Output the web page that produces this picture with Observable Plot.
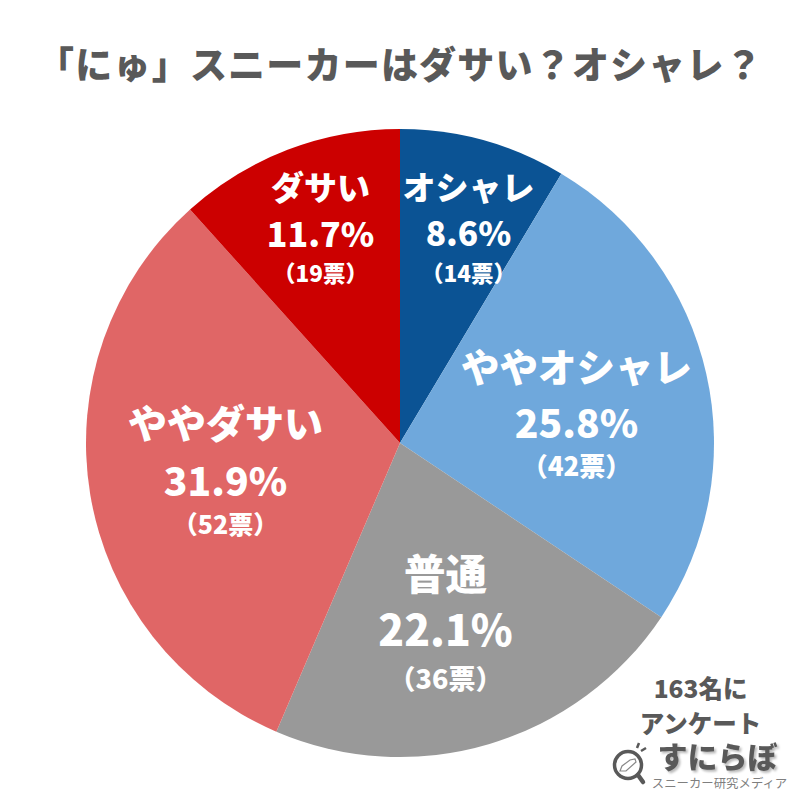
<!DOCTYPE html>
<html lang="ja"><head><meta charset="utf-8">
<script src="https://cdn.jsdelivr.net/npm/d3@7"></script>
<script src="https://cdn.jsdelivr.net/npm/@observablehq/plot@0.6"></script>
<style>
html,body{margin:0;padding:0;background:#fff;width:800px;overflow:hidden}
#title{height:115px;box-sizing:border-box;padding-top:40px;text-align:center;font:900 37px/46px "Noto Sans CJK JP";letter-spacing:1.2px;color:#595959;white-space:nowrap}
svg{display:block}
</style></head><body>
<div id="title">「にゅ」スニーカーはダサい？オシャレ？</div>
<div id="chart"></div>
<script>
const categories = ["オシャレ","ややオシャレ","普通","ややダサい","ダサい"];
const votes = [14,42,36,52,19];
const percents = ["8.6%","25.8%","22.1%","31.9%","11.7%"];
const colors = ["#0b5394","#6fa8dc","#999999","#e06666","#cc0000"];
// label layout (centre x, y of each of the three lines)
const labelX = [468,576,445,225,320];
const nameY = [189,369,576,425,189];
const pctY = [235,425,632,483,236];
const voteY = [274,467,680,525,274];
const nameSize = [33,38.5,41.5,39,33];
const pctSize = [33.5,39,42.5,39,34];
const voteSize = [22.5,26,27,25,22.5];

const center = {x:400,y:443,r:314};
const slices = categories.map((c,i)=>({c,v:votes[i],color:colors[i]}));
const F = "Noto Sans CJK JP";
const lab = (ys,sizes,txt) => Plot.text(categories.map((c,i)=>i),{
  x:i=>labelX[i], y:i=>ys[i], text:txt, fontSize:i=>sizes[i],
  fill:"#fff", fontWeight:800, fontFamily:F, textAnchor:"middle", lineAnchor:"middle"});

const pieMark = (index,{x,y},values,dims) => {
  const sx = x(center.x), sy = y(center.y), r = x(center.x+center.r)-sx;
  const arcs = d3.pie().sort(null).value(d=>d.v)(slices);
  const arc = d3.arc().innerRadius(0).outerRadius(r);
  const g = d3.create("svg:g").attr("transform",`translate(${sx},${sy})`);
  g.selectAll("path").data(arcs).join("path").attr("d",arc).attr("fill",d=>d.data.color);
  return g.node();
};
const iconMark = (index,{x,y}) => {
  const g = d3.create("svg:g").attr("transform",`translate(${x(628)},${y(765)})`);
  g.append("circle").attr("r",13.5).attr("fill","#fff").attr("stroke","#595959").attr("stroke-width",3.5);
  g.append("line").attr("x1",10).attr("y1",10).attr("x2",15).attr("y2",17).attr("stroke","#595959").attr("stroke-width",4.5).attr("stroke-linecap","round");
  g.append("path").attr("d","M-8 6 L-6 1 L2 -5 L7 -6 L8 -3 L-2 6 Z").attr("fill","#fff").attr("stroke","#888").attr("stroke-width",1.2);
  g.append("path").attr("d","M9 -17 L11 -22 M13 -14 L18 -17").attr("stroke","#595959").attr("stroke-width",2.5);
  return g.node();
};
const note = (t,px,py,size,w,col,extra={}) => Plot.text([t],{x:()=>px,y:()=>py,text:d=>d,fontSize:size,fontWeight:w,fontFamily:F,fill:col,textAnchor:"middle",lineAnchor:"middle",...extra});

const chart = Plot.plot({
  width:800,height:685,margin:0,
  x:{domain:[0,800],range:[0,800],axis:null},
  y:{domain:[115,800],range:[0,685],axis:null},
  style:{background:"#fff"},
  marks:[
    pieMark,
    lab(nameY,nameSize,i=>categories[i]),
    lab(pctY,pctSize,i=>percents[i]),
    lab(voteY,voteSize,i=>`（${votes[i]}票）`),
    note("163名に",700,690,24.5,800,"#595959"),
    note("アンケート",700,725,24.5,800,"#595959"),
    iconMark,
    note("すにらぼ",717,758,30,900,"#595959",{imageFilter:"drop-shadow(2px 2px 1px #bbb)"}),
    note("スニーカー研究メディア",719,784,12.4,400,"#7f7f7f")
  ]
});
document.getElementById("chart").append(chart);
</script></body></html>
